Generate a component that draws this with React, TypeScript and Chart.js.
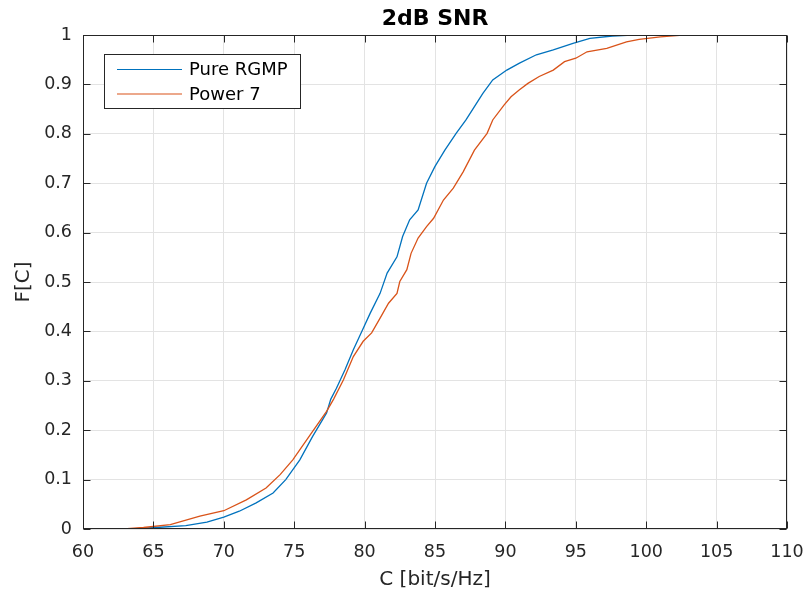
import { useEffect, useRef } from "react";
import { Chart, registerables } from "chart.js";

Chart.register(...registerables);

const TITLE = "2dB SNR";
const X_LABEL = "C [bit/s/Hz]";
const Y_LABEL = "F[C]";
const SERIES_NAMES = ["Pure RGMP", "Power 7"];
const SERIES_COLORS = ["#0072BD", "#D95319"];

const X_TICKS = [60, 65, 70, 75, 80, 85, 90, 95, 100, 105, 110];
const Y_TICKS = [0, 0.1, 0.2, 0.3, 0.4, 0.5, 0.6, 0.7, 0.8, 0.9, 1];

const pureC = [63.4, 65.2, 67.3, 68.8, 70.0, 71.1, 72.3, 73.5, 74.4, 75.4, 76.3, 77.3, 77.6, 78.0, 78.6, 79.2, 79.8, 80.4, 81.1, 81.6, 82.3, 82.7, 83.2, 83.8, 84.4, 85.0, 85.7, 86.5, 87.2, 87.8, 88.4, 89.1, 90.1, 91.0, 92.2, 93.4, 94.8, 96.0, 97.6, 99.0, 100.5];
const pureF = [0, 0.003, 0.007, 0.014, 0.024, 0.036, 0.053, 0.073, 0.1, 0.14, 0.187, 0.235, 0.263, 0.285, 0.322, 0.363, 0.4, 0.437, 0.477, 0.518, 0.551, 0.592, 0.626, 0.646, 0.7, 0.734, 0.767, 0.801, 0.828, 0.855, 0.882, 0.909, 0.929, 0.943, 0.96, 0.97, 0.983, 0.993, 0.998, 1.0, 1.0];

const powerC = [62.9, 64.3, 66.2, 68.3, 70.0, 71.6, 73.0, 74.0, 74.9, 75.9, 77.3, 77.8, 78.5, 79.2, 79.9, 80.5, 81.1, 81.7, 82.3, 82.5, 83.0, 83.3, 83.8, 84.4, 84.9, 85.6, 86.3, 87.0, 87.8, 88.7, 89.1, 89.9, 90.4, 91.0, 91.6, 92.4, 93.4, 94.2, 95.0, 95.8, 97.2, 98.6, 99.5, 101.0, 102.6, 106.4];
const powerF = [0, 0.003, 0.009, 0.026, 0.037, 0.059, 0.083, 0.11, 0.14, 0.181, 0.238, 0.263, 0.302, 0.349, 0.38, 0.397, 0.427, 0.457, 0.477, 0.501, 0.525, 0.558, 0.589, 0.612, 0.629, 0.666, 0.69, 0.723, 0.767, 0.801, 0.828, 0.858, 0.875, 0.889, 0.902, 0.916, 0.929, 0.946, 0.953, 0.966, 0.973, 0.986, 0.991, 0.996, 1.0, 1.0];

const FONT = "'DejaVu Sans', sans-serif";
const AXIS_COLOR = "#262626";

const toPoints = (xs: number[], ys: number[]) => xs.map((x, i) => ({ x, y: ys[i] }));

const framePlugin = {
  id: "matlabFrame",
  afterDraw(chart: any) {
    const { ctx, chartArea: a, scales } = chart;
    const L = Math.round(a.left) + 0.5;
    const R = Math.round(a.right) - 0.5;
    const T = Math.round(a.top) + 0.5;
    const B = Math.round(a.bottom) - 0.5;
    ctx.save();
    ctx.strokeStyle = AXIS_COLOR;
    ctx.lineWidth = 1;
    ctx.strokeRect(L, T, R - L, B - T);
    const tl = 7;
    ctx.beginPath();
    X_TICKS.forEach((v) => {
      const px = Math.round(scales.x.getPixelForValue(v)) + 0.5;
      ctx.moveTo(px, B);
      ctx.lineTo(px, B - tl);
      ctx.moveTo(px, T);
      ctx.lineTo(px, T + tl);
    });
    Y_TICKS.forEach((v) => {
      const py = Math.round(scales.y.getPixelForValue(v)) + 0.5;
      ctx.moveTo(L, py);
      ctx.lineTo(L + tl, py);
      ctx.moveTo(R, py);
      ctx.lineTo(R - tl, py);
    });
    ctx.stroke();

    // Title
    ctx.fillStyle = "#000000";
    ctx.font = `bold 22px ${FONT}`;
    ctx.textAlign = "center";
    ctx.textBaseline = "middle";
    ctx.fillText(TITLE, (a.left + a.right) / 2, 19);

    // Legend
    const lx = 104.5, ly = 54.5, lw = 196, lh = 54;
    ctx.fillStyle = "#ffffff";
    ctx.fillRect(lx, ly, lw, lh);
    ctx.strokeStyle = AXIS_COLOR;
    ctx.strokeRect(lx, ly, lw, lh);
    ctx.font = `18px ${FONT}`;
    ctx.textAlign = "left";
    ctx.textBaseline = "middle";
    chart.data.datasets.forEach((ds: any, i: number) => {
      const y = 69.5 + i * 24.5;
      ctx.strokeStyle = ds.borderColor;
      ctx.lineWidth = 1.2;
      ctx.beginPath();
      ctx.moveTo(117, y);
      ctx.lineTo(182, y);
      ctx.stroke();
      ctx.fillStyle = "#000000";
      ctx.fillText(ds.label, 189, y + 1);
    });
    ctx.restore();
  },
};

export default function App() {
  const ref = useRef<HTMLCanvasElement | null>(null);

  useEffect(() => {
    if (!ref.current) return;
    const chart = new Chart(ref.current, {
      type: "line",
      data: {
        datasets: [
          {
            label: SERIES_NAMES[0],
            data: toPoints(pureC, pureF),
            borderColor: SERIES_COLORS[0],
            backgroundColor: SERIES_COLORS[0],
            borderWidth: 1.3,
            pointRadius: 0,
            tension: 0,
            fill: false,
            order: 2,
          },
          {
            label: SERIES_NAMES[1],
            data: toPoints(powerC, powerF),
            borderColor: SERIES_COLORS[1],
            backgroundColor: SERIES_COLORS[1],
            borderWidth: 1.3,
            pointRadius: 0,
            tension: 0,
            fill: false,
            order: 1,
          },
        ],
      },
      options: {
        responsive: false,
        animation: false,
        layout: { padding: { top: 35, right: 20, left: 0, bottom: 0 } },
        plugins: {
          legend: { display: false },
          title: { display: false },
          tooltip: { enabled: false },
        },
        scales: {
          x: {
            type: "linear",
            min: 60,
            max: 110,
            afterBuildTicks: (axis: any) => {
              axis.ticks = X_TICKS.map((v) => ({ value: v }));
            },
            afterFit: (axis: any) => {
              axis.height = 66;
              axis.paddingLeft = 0;
              axis.paddingRight = 0;
            },
            grid: { color: "#e3e3e3", lineWidth: 1, drawTicks: false },
            border: { display: false },
            ticks: {
              color: AXIS_COLOR,
              font: { family: FONT, size: 17.5 },
              padding: 13,
              maxRotation: 0,
              autoSkip: false,
              callback: (v: any) => String(v),
            },
            title: {
              display: true,
              text: X_LABEL,
              color: AXIS_COLOR,
              font: { family: FONT, size: 20 },
              padding: { top: 4, bottom: 3 },
            },
          },
          y: {
            type: "linear",
            min: 0,
            max: 1,
            afterBuildTicks: (axis: any) => {
              axis.ticks = Y_TICKS.map((v) => ({ value: v }));
            },
            afterFit: (axis: any) => {
              axis.width = 83;
              axis.paddingTop = 0;
              axis.paddingBottom = 0;
            },
            grid: { color: "#e3e3e3", lineWidth: 1, drawTicks: false },
            border: { display: false },
            ticks: {
              color: AXIS_COLOR,
              font: { family: FONT, size: 17.5 },
              padding: 11,
              autoSkip: false,
              callback: (v: any) => (v === 0 || v === 1 ? String(v) : Number(v).toFixed(1)),
            },
            title: {
              display: true,
              text: Y_LABEL,
              color: AXIS_COLOR,
              font: { family: FONT, size: 20 },
              padding: { top: 12, bottom: 4 },
            },
          },
        },
      },
      plugins: [framePlugin],
    });
    return () => chart.destroy();
  }, []);

  return (
    <div style={{ position: "fixed", left: 0, top: 0, width: 807, height: 595, background: "#ffffff" }}>
      <canvas ref={ref} width={807} height={595} style={{ display: "block" }} />
    </div>
  );
}
